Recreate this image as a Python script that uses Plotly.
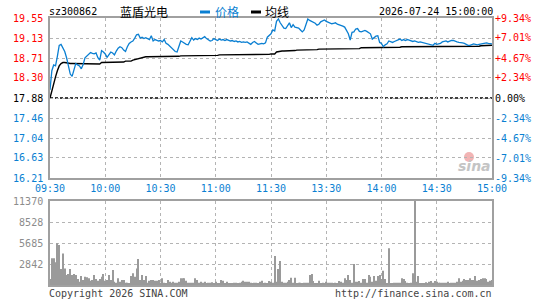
import plotly.graph_objects as go

stock_code = "sz300862"
stock_name = "蓝盾光电"
timestamp = "2026-07-24 15:00:00"
legend_price = "价格"
legend_avg = "均线"
footer_left = "Copyright 2026 SINA.COM"
footer_right = "http://finance.sina.com.cn"
prev_close = 17.88

price = [
    18.05, 18.45, 18.57, 18.55, 18.75, 18.98, 19.00, 18.93, 18.85, 18.72,
    18.55, 18.38, 18.33, 18.45, 18.60, 18.57, 18.55, 18.49, 18.58, 18.72,
    18.76, 18.80, 18.83, 18.81, 18.80, 18.82, 18.72, 18.67, 18.87, 18.84,
    18.80, 18.73, 18.80, 18.84, 18.82, 18.78, 18.86, 18.92, 18.95, 18.93,
    18.88, 18.85, 18.95, 19.02, 19.05, 19.07, 19.13, 19.20, 19.21, 19.13,
    19.15, 19.12, 19.14, 19.12, 19.10, 19.18, 19.07, 19.10, 19.08, 19.07,
    19.08, 19.05, 19.10, 19.02, 19.00, 18.96, 18.92, 18.88, 18.85, 18.84,
    18.95, 19.07, 19.05, 19.02, 19.00, 18.99, 19.07, 19.14, 19.09, 19.12,
    19.10, 19.13, 19.11, 19.14, 19.16, 19.12, 19.10, 19.07, 19.08, 19.12,
    19.10, 19.08, 19.11, 19.09, 19.10, 19.08, 19.10, 19.09, 19.07, 19.08,
    19.06, 19.07, 19.05, 19.06, 19.04, 19.05, 19.04, 19.05, 19.02, 19.00,
    19.04, 19.06, 19.03, 19.00, 19.01, 19.02, 19.01, 19.03, 19.15, 19.18,
    19.22, 19.30, 19.28, 19.48, 19.53, 19.45, 19.38, 19.34, 19.33, 19.38,
    19.45, 19.35, 19.41, 19.36, 19.35, 19.34, 19.30, 19.26, 19.30, 19.40,
    19.53, 19.50, 19.48, 19.47, 19.44, 19.40, 19.42, 19.47, 19.50, 19.51,
    19.48, 19.46, 19.45, 19.43, 19.44, 19.45, 19.42, 19.41, 19.39, 19.38,
    19.36, 19.30, 19.22, 19.09, 19.25, 19.26, 19.32, 19.33, 19.27, 19.26,
    19.27, 19.29, 19.27, 19.24, 19.22, 19.11, 19.14, 19.17, 19.18, 19.04,
    19.02, 18.95, 18.99, 19.01, 19.07, 19.05, 19.04, 19.06, 19.08, 19.10,
    19.11, 19.08, 19.10, 19.08, 19.10, 19.09, 19.07, 19.06, 19.07, 19.05,
    19.04, 19.05, 19.04, 19.03, 19.02, 19.01, 19.00, 18.98, 18.98, 19.02,
    19.00, 19.01, 19.02, 19.05, 19.06, 19.07, 19.05, 19.07, 19.08, 19.08,
    19.06, 19.05, 19.04, 19.04, 19.03, 19.02, 19.00, 18.98, 18.98, 19.00,
    19.01, 19.00, 18.99, 19.00, 19.01, 19.02, 19.03, 19.03, 19.02, 19.01,
    19.01,
]

avg_price = [
    17.88, 18.05, 18.20, 18.32, 18.45, 18.55, 18.60, 18.62, 18.62, 18.61,
    18.60, 18.60, 18.60, 18.60, 18.60, 18.60, 18.59, 18.59, 18.59, 18.59,
    18.59, 18.59, 18.59, 18.59, 18.59, 18.59, 18.59, 18.59, 18.62, 18.62,
    18.62, 18.62, 18.62, 18.62, 18.62, 18.62, 18.63, 18.63, 18.63, 18.63,
    18.63, 18.65, 18.65, 18.65, 18.65, 18.67, 18.68, 18.70, 18.71, 18.72,
    18.72, 18.73, 18.74, 18.74, 18.74, 18.74, 18.74, 18.75, 18.75, 18.75,
    18.75, 18.75, 18.75, 18.75, 18.75, 18.75, 18.75, 18.75, 18.75, 18.75,
    18.75, 18.76, 18.76, 18.76, 18.76, 18.76, 18.76, 18.77, 18.77, 18.77,
    18.77, 18.77, 18.77, 18.77, 18.77, 18.77, 18.77, 18.77, 18.77, 18.77,
    18.77, 18.77, 18.78, 18.78, 18.78, 18.78, 18.78, 18.78, 18.78, 18.78,
    18.78, 18.78, 18.78, 18.78, 18.78, 18.78, 18.79, 18.79, 18.79, 18.79,
    18.79, 18.79, 18.79, 18.79, 18.79, 18.79, 18.79, 18.79, 18.79, 18.79,
    18.80, 18.80, 18.80, 18.84, 18.85, 18.85, 18.86, 18.86, 18.86, 18.86,
    18.86, 18.87, 18.87, 18.87, 18.88, 18.88, 18.88, 18.88, 18.88, 18.88,
    18.88, 18.89, 18.89, 18.89, 18.89, 18.89, 18.90, 18.90, 18.90, 18.90,
    18.90, 18.90, 18.90, 18.90, 18.90, 18.90, 18.90, 18.91, 18.91, 18.91,
    18.91, 18.91, 18.91, 18.91, 18.91, 18.91, 18.91, 18.91, 18.91, 18.93,
    18.93, 18.93, 18.94, 18.94, 18.94, 18.94, 18.94, 18.94, 18.94, 18.94,
    18.94, 18.94, 18.94, 18.94, 18.94, 18.94, 18.94, 18.94, 18.94, 18.94,
    18.94, 18.95, 18.95, 18.95, 18.95, 18.95, 18.95, 18.95, 18.95, 18.95,
    18.95, 18.96, 18.96, 18.96, 18.96, 18.96, 18.96, 18.96, 18.96, 18.96,
    18.96, 18.96, 18.96, 18.96, 18.96, 18.96, 18.96, 18.96, 18.96, 18.96,
    18.96, 18.96, 18.96, 18.96, 18.96, 18.96, 18.96, 18.96, 18.96, 18.96,
    18.96, 18.96, 18.96, 18.96, 18.97, 18.97, 18.97, 18.98, 18.98, 18.98,
    18.98,
]

volume = [
    810, 3610, 3610, 3070, 5640, 5410, 2160, 4280, 2250, 1350,
    1490, 2160, 1350, 1490, 1350, 810, 450, 1220, 680, 1130,
    1040, 900, 590, 680, 1350, 810, 590, 810, 1130, 1490,
    590, 680, 1350, 680, 2030, 450, 320, 900, 450, 680,
    680, 320, 320, 230, 1220, 1580, 1130, 2250, 3520, 680,
    1350, 680, 1220, 320, 590, 680, 680, 590, 590, 680,
    320, 900, 320, 230, 680, 450, 320, 450, 320, 320,
    450, 900, 900, 900, 590, 320, 320, 320, 320, 900,
    680, 320, 450, 320, 450, 230, 320, 320, 360, 230,
    450, 230, 140, 680, 590, 230, 450, 230, 230, 230,
    320, 320, 230, 320, 450, 590, 450, 450, 450, 320,
    230, 320, 320, 230, 450, 590, 230, 320, 230, 540,
    450, 300, 3920, 450, 2160, 3250, 450, 320, 320, 450,
    680, 990, 320, 990, 230, 320, 320, 230, 320, 320,
    320, 1350, 1490, 540, 230, 230, 590, 230, 320, 230,
    450, 320, 320, 320, 230, 320, 230, 540, 450, 320,
    900, 680, 1350, 680, 320, 2840, 450, 450, 540, 320,
    810, 810, 320, 1350, 1130, 450, 1220, 590, 1220, 1350,
    810, 1940, 810, 230, 4960, 230, 140, 320, 320, 320,
    320, 900, 810, 540, 320, 230, 320, 1580, 11370, 450,
    1220, 140, 140, 140, 360, 230, 450, 540, 320, 540,
    450, 320, 320, 320, 320, 320, 450, 230, 320, 320,
    320, 450, 900, 450, 590, 810, 680, 680, 900, 680,
    680, 1220, 590, 680, 810, 900, 900, 810, 450, 590,
    680,
]

time_tick_pos = [0, 30, 60, 90, 120, 150, 180, 210, 240]
time_tick_labels = ["09:30", "10:00", "10:30", "11:00", "11:30",
                    "13:30", "14:00", "14:30", "15:00"]
price_ticks = [19.55, 19.13, 18.71, 18.30, 17.88, 17.46, 17.04, 16.63, 16.21]
pct_ticks = [9.34, 7.01, 4.67, 2.34, 0.00, -2.34, -4.67, -7.01, -9.34]
vol_ticks = [2842, 5685, 8528, 11370]

RED = "#ff0000"
BLUE = "#0a7fd2"
GRAY_TXT = "#8c8c8c"
FRAME = "#a0a0a0"
GRID = "#b4b4b4"
MONO = "DejaVu Sans Mono"
CJK = "Noto Sans CJK SC"

W, H = 545, 300
L, R, T, B = 50, 53, 18, 15
pw = W - L - R
ph = H - T - B


def fx(px):
    return (px - L) / pw


def fy(py):
    return (H - B - py) / ph


def colored(txt, c):
    return f'<span style="color:{c}">{txt}</span>'


def price_label(v):
    c = RED if v > prev_close else ("#000000" if abs(v - prev_close) < 1e-9 else BLUE)
    return colored(f"{v:.2f}", c)


def pct_label(v):
    if v > 0:
        return colored(f"+{v:.2f}%", RED)
    if v < 0:
        return colored(f"{v:.2f}%", BLUE)
    return colored(f"{v:.2f}%", "#000000")


idx = list(range(len(price)))

fig = go.Figure()
fig.add_trace(go.Scatter(x=idx, y=avg_price, mode="lines",
                         line=dict(color="#000000", width=1.4),
                         xaxis="x", yaxis="y", hoverinfo="skip", showlegend=False))
fig.add_trace(go.Scatter(x=idx, y=price, mode="lines",
                         line=dict(color=BLUE, width=1.3),
                         xaxis="x", yaxis="y", hoverinfo="skip", showlegend=False))
fig.add_trace(go.Scatter(x=[time_tick_pos[0], time_tick_pos[-1]],
                         y=[pct_ticks[-1], pct_ticks[0]], mode="markers",
                         marker=dict(opacity=0), xaxis="x", yaxis="y3",
                         hoverinfo="skip", showlegend=False))
fig.add_trace(go.Bar(x=idx, y=volume, width=0.55,
                     marker=dict(color="#9a9a9a", line=dict(width=0)),
                     xaxis="x2", yaxis="y2", hoverinfo="skip", showlegend=False))

price_dom = [fy(178), 1.0]
vol_dom = [0.0, fy(201)]

common_x = dict(range=[0, 240], tickvals=time_tick_pos, showgrid=True,
                gridcolor=GRID, griddash="dot", gridwidth=1, zeroline=False,
                showline=True, mirror=True, linecolor=FRAME, linewidth=1.6,
                ticks="", fixedrange=True)

fig.update_layout(
    width=W, height=H, template="none",
    paper_bgcolor="white", plot_bgcolor="white",
    margin=dict(l=L, r=R, t=T, b=B, pad=0),
    showlegend=False,
    xaxis=dict(common_x, domain=[0, 1], anchor="y", ticktext=time_tick_labels,
               tickfont=dict(family=MONO, size=10, color=BLUE)),
    xaxis2=dict(common_x, domain=[0, 1], anchor="y2", showticklabels=False),
    yaxis=dict(domain=price_dom, range=[price_ticks[-1], price_ticks[0]],
               tickvals=price_ticks, ticktext=[price_label(v) for v in price_ticks],
               tickfont=dict(family=MONO, size=10), showgrid=True, gridcolor=GRID,
               griddash="dot", zeroline=False, showline=True, mirror=True,
               linecolor=FRAME, linewidth=1.6, ticks="", anchor="x",
               ticklabelstandoff=3),
    yaxis3=dict(overlaying="y", side="right", anchor="x",
                range=[pct_ticks[-1], pct_ticks[0]], tickvals=pct_ticks,
                ticktext=[pct_label(v) for v in pct_ticks],
                tickfont=dict(family=MONO, size=10), showgrid=False,
                zeroline=False, showline=False, ticks="", ticklabelstandoff=2),
    yaxis2=dict(domain=vol_dom, range=[0, vol_ticks[-1]], tickvals=vol_ticks,
                ticktext=[str(v) for v in vol_ticks],
                tickfont=dict(family=MONO, size=10, color=GRAY_TXT),
                showgrid=True, gridcolor=GRID, griddash="dot", zeroline=False,
                showline=True, mirror=True, linecolor=FRAME, linewidth=1.6,
                ticks="", anchor="x2", ticklabelstandoff=3),
)

# previous close dashed line
fig.add_shape(type="line", xref="x", yref="y", x0=0, x1=240,
              y0=prev_close, y1=prev_close,
              line=dict(color="#000000", width=1.3, dash="3px,2px"), layer="below")

# header
ann = []
hy = fy(12)
ann.append(dict(text=stock_code, x=fx(49), y=hy, xanchor="left", yanchor="middle",
                font=dict(family=MONO, size=10, color="#000000")))
ann.append(dict(text=stock_name, x=fx(120), y=hy, xanchor="left", yanchor="middle",
                font=dict(family=CJK, size=12, color="#000000")))
ann.append(dict(text=legend_price, x=fx(215), y=hy, xanchor="left", yanchor="middle",
                font=dict(family=CJK, size=12, color=BLUE)))
ann.append(dict(text=legend_avg, x=fx(265), y=hy, xanchor="left", yanchor="middle",
                font=dict(family=CJK, size=12, color="#000000")))
ann.append(dict(text=timestamp, x=fx(493), y=hy, xanchor="right", yanchor="middle",
                font=dict(family=MONO, size=10, color="#000000")))
# footer
ann.append(dict(text=footer_left, x=fx(49), y=fy(293), xanchor="left", yanchor="middle",
                font=dict(family=MONO, size=10, color="#444444")))
ann.append(dict(text=footer_right, x=fx(492), y=fy(293), xanchor="right", yanchor="middle",
                font=dict(family=MONO, size=10, color="#444444")))
# watermark
ann.append(dict(text="sina", x=fx(474), y=fy(166), xanchor="center", yanchor="middle",
                font=dict(family="DejaVu Sans", size=14, color="#c4c4c4",
                          style="italic", weight="bold")))
for a in ann:
    a.update(xref="paper", yref="paper", showarrow=False, borderpad=0, borderwidth=0)
fig.update_layout(annotations=ann)

# legend swatches and watermark eye
fig.add_shape(type="rect", xref="paper", yref="paper", x0=fx(200), x1=fx(210),
              y0=fy(13.5), y1=fy(10.5), fillcolor=BLUE, line=dict(width=0))
fig.add_shape(type="rect", xref="paper", yref="paper", x0=fx(251), x1=fx(261),
              y0=fy(13.5), y1=fy(10.5), fillcolor="#000000", line=dict(width=0))
fig.add_shape(type="circle", xref="paper", yref="paper", x0=fx(464), x1=fx(474),
              y0=fy(162), y1=fy(152), fillcolor="#f2b4b4", line=dict(width=0),
              layer="below")

fig.write_html("out.html")
